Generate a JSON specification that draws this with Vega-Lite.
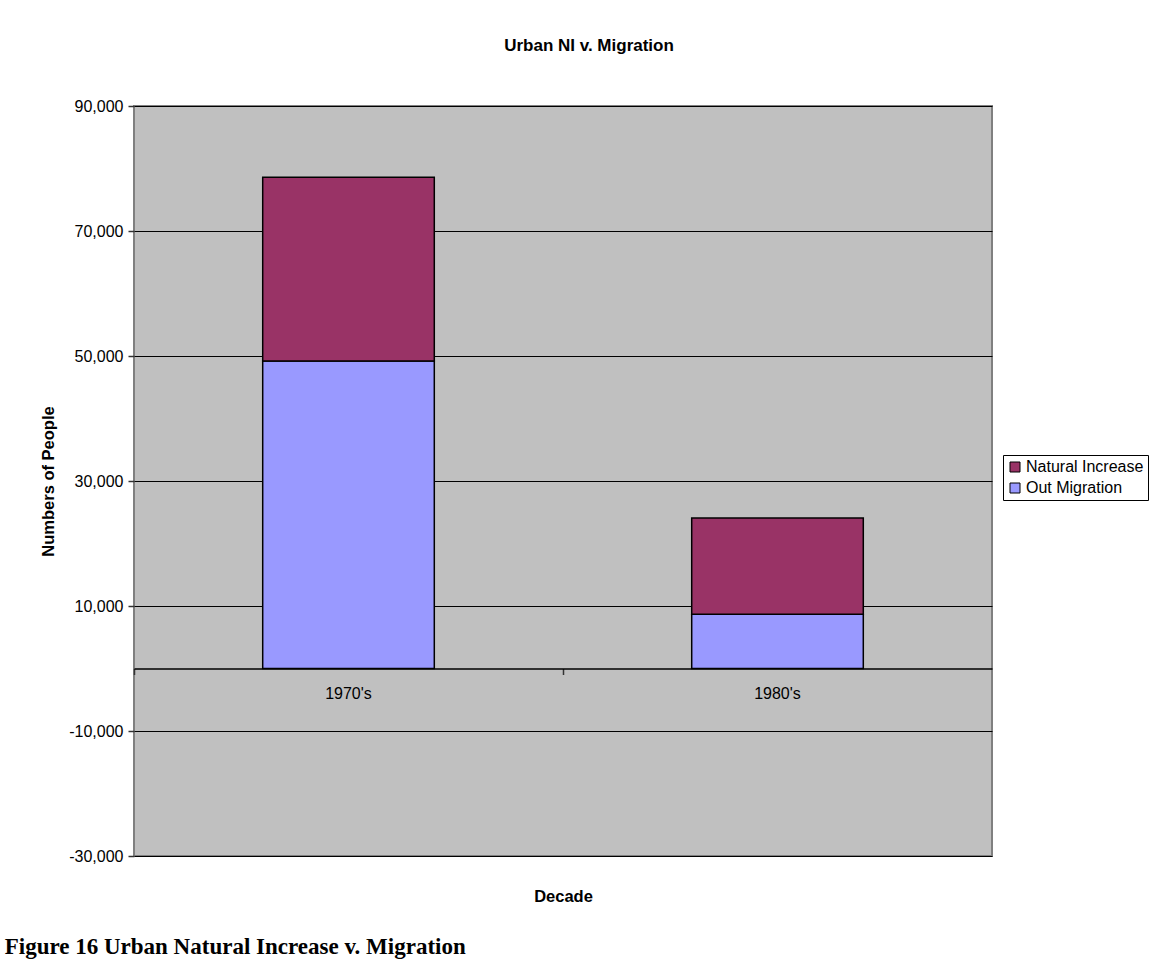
{
  "$schema": "https://vega.github.io/schema/vega-lite/v6.json",
  "padding": {"left": 4, "top": 36, "right": 5, "bottom": 5},
  "background": "white",
  "title": {
    "text": "Figure 16 Urban Natural Increase v. Migration",
    "orient": "bottom",
    "anchor": "start",
    "frame": "bounds",
    "font": "Liberation Serif",
    "fontSize": 23,
    "fontWeight": "bold",
    "color": "black",
    "offset": 30,
    "dx": -35
  },
  "vconcat": [
    {
      "width": 858,
      "height": 750,
      "title": {
        "text": "Urban NI v. Migration",
        "font": "Liberation Sans",
        "fontSize": 17,
        "fontWeight": "bold",
        "color": "black",
        "anchor": "middle",
        "dx": 26,
        "offset": 43
      },
      "data": {
        "values": [
          {"decade": "1970's", "series": "Out Migration", "value": 49200},
          {"decade": "1970's", "series": "Natural Increase", "value": 29400},
          {"decade": "1980's", "series": "Out Migration", "value": 8700},
          {"decade": "1980's", "series": "Natural Increase", "value": 15400}
        ]
      },
      "mark": {"type": "bar", "stroke": "black", "strokeWidth": 1.5},
      "encoding": {
        "x": {
          "field": "decade",
          "type": "nominal",
          "scale": {"paddingInner": 0.6, "paddingOuter": 0.3},
          "axis": {
            "title": "Decade",
            "orient": "bottom",
            "offset": -187.5,
            "domainColor": "black",
            "domainWidth": 1.5,
            "bandPosition": -0.75,
            "tickColor": "#333333",
            "tickSize": 6,
            "tickWidth": 1.5,
            "labelAngle": 0,
            "labelFont": "Liberation Sans",
            "labelFontSize": 16,
            "labelColor": "black",
            "labelPadding": 11,
            "titleFont": "Liberation Sans",
            "titleFontSize": 16.5,
            "titleFontWeight": "bold",
            "titleColor": "black",
            "titlePadding": 187,
            "grid": false
          }
        },
        "y": {
          "field": "value",
          "type": "quantitative",
          "stack": "zero",
          "scale": {"domain": [-30000, 90000], "nice": false, "zero": false},
          "axis": {
            "title": "Numbers of People",
            "values": [-30000, -10000, 10000, 30000, 50000, 70000, 90000],
            "format": ",d",
            "labelExpr": "replace(datum.label, '\u2212', '-')",
            "domain": false,
            "grid": true,
            "gridColor": "black",
            "gridWidth": 1,
            "gridOpacity": 1,
            "tickColor": "#333333",
            "tickSize": 6,
            "tickWidth": 1.5,
            "labelPadding": 5,
            "labelFont": "Liberation Sans",
            "labelFontSize": 16,
            "labelColor": "black",
            "titleFont": "Liberation Sans",
            "titleFontSize": 16.5,
            "titleFontWeight": "bold",
            "titleColor": "black",
            "titlePadding": 12
          }
        },
        "color": {
          "field": "series",
          "type": "nominal",
          "scale": {"domain": ["Natural Increase", "Out Migration"], "range": ["#993366", "#9999FF"]},
          "legend": {
            "title": null,
            "orient": "none",
            "legendX": 869,
            "legendY": 349,
            "strokeColor": "black",
            "fillColor": "white",
            "padding": 4,
            "symbolType": "square",
            "symbolSize": 100,
            "symbolStrokeColor": "black",
            "symbolStrokeWidth": 1,
            "labelFont": "Liberation Sans",
            "labelFontSize": 16,
            "labelColor": "black",
            "labelOffset": 3,
            "rowPadding": 5
          }
        },
        "order": {"field": "series", "sort": "descending"}
      }
    }
  ],
  "config": {
    "font": "Liberation Sans",
    "view": {"fill": "#C0C0C0", "stroke": "#808080", "strokeWidth": 2}
  }
}
